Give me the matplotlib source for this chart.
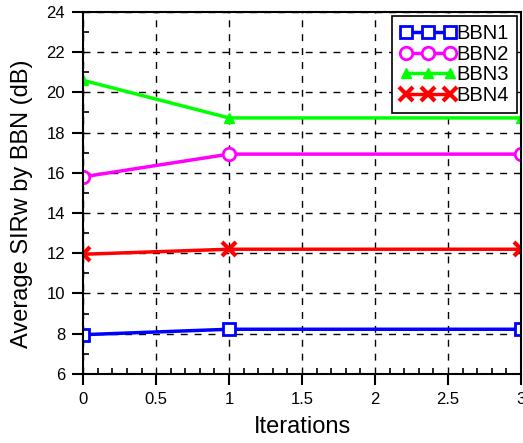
import matplotlib
matplotlib.use("Agg")
import matplotlib.pyplot as plt
from matplotlib.ticker import MultipleLocator, FuncFormatter

plt.rcParams['font.family'] = ['Liberation Sans', 'DejaVu Sans']

iterations = [0, 1, 3]
bbn1 = [7.95, 8.22, 8.22]
bbn2 = [15.8, 16.93, 16.93]
bbn3 = [20.6, 18.73, 18.73]
bbn4 = [11.95, 12.2, 12.2]
labels = ['BBN1', 'BBN2', 'BBN3', 'BBN4']

fig = plt.figure(figsize=(5.23, 4.43), dpi=100)
ax = fig.add_axes([0.159, 0.156, 0.837, 0.817])

ax.plot(iterations, bbn1, color='#0000ff', lw=2.5, marker='s', ms=8, mfc='white', mec='#0000ff', mew=2, label=labels[0])
ax.plot(iterations, bbn2, color='#ff00ff', lw=2.5, marker='o', ms=9, mfc='white', mec='#ff00ff', mew=2, label=labels[1])
ax.plot(iterations, bbn3, color='#00ff00', lw=2.5, marker='^', ms=7, mfc='#00ff00', mec='#00ff00', label=labels[2])
ax.plot(iterations, bbn4, color='#ff0000', lw=2.5, marker='x', ms=10, mew=3, label=labels[3])

ax.set_xlim(0, 3)
ax.set_ylim(6, 24)
ax.xaxis.set_major_locator(MultipleLocator(0.5))
ax.xaxis.set_minor_locator(MultipleLocator(0.1))
ax.yaxis.set_major_locator(MultipleLocator(2))
ax.yaxis.set_minor_locator(MultipleLocator(1))
ax.xaxis.set_major_formatter(FuncFormatter(lambda v, p: '%g' % v))
ax.tick_params(which='major', direction='out', length=8, width=1.5, labelsize=12, pad=5)
ax.tick_params(which='minor', direction='in', length=4, width=1.2)
ax.grid(True, which='major', color='black', linestyle=(0, (5, 5)), lw=1)
for s in ax.spines.values():
    s.set_linewidth(1.5)

ax.set_xlabel('Iterations', fontsize=17)
ax.set_ylabel('Average SIRw by BBN (dB)', fontsize=17)
ax.yaxis.set_label_coords(-0.114, 0.47)
ax.xaxis.set_label_coords(0.5, -0.115)

leg = ax.legend(loc='upper right', numpoints=3, fancybox=False, edgecolor='black',
                fontsize=14.5, handlelength=2.8, handletextpad=0.0, labelspacing=0.08,
                borderpad=0.4, borderaxespad=0, framealpha=1, bbox_to_anchor=(0.991, 0.989))
leg.get_frame().set_linewidth(1.2)

fig.savefig('out.png', dpi=100)
